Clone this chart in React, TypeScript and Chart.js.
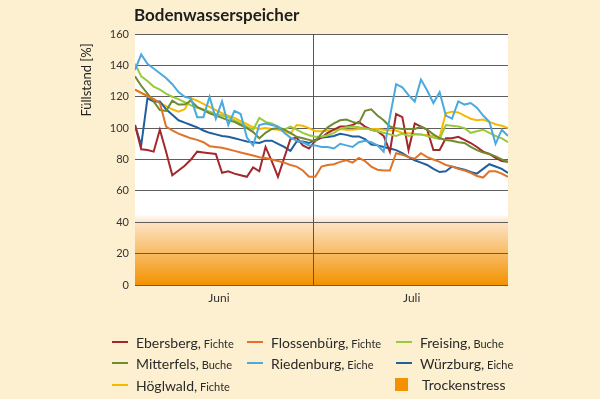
import React, { useEffect, useRef } from "react";
import { Chart, registerables } from "chart.js";

Chart.register(...registerables);

// Day index 0..60 (early June .. end of July)
const ebersberg = [102, 86.5, 86, 85, 99, 85, 70, 73, 76, 80, 85, 84.5, 84, 83.5, 71.5, 72.5, 71, 70, 69, 75, 72.5, 88, 79, 69, 81, 93, 94, 89, 87, 92, 94, 97, 99, 101, 101, 102, 104, 101, 99, 98, 95, 85, 109, 107, 86, 103, 101, 99, 86, 86, 93.5, 93.5, 94.5, 92.5, 90.5, 88, 85, 83.5, 81, 79, 78.5];
const flossenbuerg = [124.5, 122.5, 120.5, 118.5, 116, 101, 98.5, 96.5, 95, 93.5, 92.5, 91, 88.5, 88, 87.5, 86.5, 85.5, 84.5, 83.5, 82.5, 81.5, 81, 80, 79, 78, 76.5, 75.5, 73, 69, 69, 75.5, 76.5, 77, 78.5, 79.5, 78, 81, 79, 75.5, 73.5, 73, 73, 84, 83, 81.5, 80.5, 84, 81.5, 80, 78.5, 76.5, 75.5, 74, 73, 71.5, 69.5, 68.5, 72.5, 72.5, 71, 69];
const freising = [141, 133, 130, 126.5, 124.5, 122, 120, 118.5, 116.5, 114.5, 113, 112, 110.5, 109, 108, 107, 105, 103, 101, 99, 106.5, 104, 103, 101, 99, 101, 99, 97, 95.5, 94.5, 94.5, 95.5, 97, 99.5, 100.5, 101, 100.5, 100, 99, 98, 97, 96, 95, 96.5, 95, 96, 96, 95, 94, 93, 102, 101.5, 101, 100, 97, 98, 99, 97, 95, 93.5, 91];
const mitterfels = [133, 127, 122, 117, 111.5, 111, 117.5, 115, 115, 117.5, 113.5, 111.5, 109.5, 108, 106.5, 105, 104, 102, 100, 97.5, 93.5, 97, 99.5, 100, 99, 97, 94.5, 93.5, 92.5, 91.5, 96.5, 100.5, 103, 105, 105.5, 104, 103, 111, 112, 108, 105, 101, 100, 99.5, 99.5, 99.5, 101, 99, 96, 93.5, 92.5, 92, 91, 90.5, 88, 86, 84.5, 83.5, 82, 80, 78.5];
const riedenburg = [137, 147, 141, 138, 135, 132, 128, 123, 120, 119, 107, 107, 120, 106, 117, 102, 111, 109, 94, 89, 102, 103, 102, 101, 97, 94, 92, 91, 89, 89, 88, 88, 87, 90, 89, 88, 91, 92, 91, 89, 85, 107, 128, 126, 121, 117, 131, 124, 116, 123, 108, 106, 117, 115, 116, 113, 108, 104, 90, 99, 95];
const wuerzburg = [102, 89, 119, 117, 117, 112, 108.5, 105, 103.5, 102, 100.5, 98.5, 97, 96, 95, 94.5, 93.5, 92.5, 91.5, 91, 90.5, 92, 92, 90, 88, 85.5, 91.5, 91.5, 90.5, 92.5, 94, 94.3, 95, 96.4, 95.7, 94.7, 94.7, 93, 89.5, 89, 88, 87, 86, 84, 81.5, 79.5, 78, 76.5, 74, 72, 72.5, 75.5, 74.5, 73.5, 72, 71, 74, 77, 75.5, 74, 71.5];
const hoeglwald = [124.5, 122.5, 120.5, 118.5, 116, 114, 112, 110.5, 112, 119, 117.5, 115.5, 113.5, 111.5, 109.5, 108, 106.5, 104.5, 102.5, 100.5, 99.5, 100, 99.5, 99, 98, 96.5, 102, 101.5, 100, 98, 98, 98.5, 99, 99.5, 99, 99, 99.5, 99.5, 99.5, 99.5, 99, 98.7, 98.5, 97, 96.7, 96.4, 96, 95.5, 95, 94.3, 109.5, 110.5, 110, 108, 106, 105, 105.5, 104, 102.5, 101.5, 100];

const monthLabels = ["Juni", "Juli"];
const monthCenters = [13.5, 44.5];
const monthDivider = 28.6;
const dayMax = 60;
const yTicksMin = 0;
const yTicksMax = 160;
const yStep = 20;
const stressLimit = 40;

const seriesNames = ["Ebersberg", "Flossenbürg", "Freising", "Mitterfels", "Riedenburg", "Würzburg", "Höglwald"];
const seriesKinds = ["Fichte", "Fichte", "Buche", "Buche", "Eiche", "Eiche", "Fichte"];
const seriesColors = ["#a3282b", "#e0732a", "#9cc83c", "#6e8b2f", "#4aa9df", "#1f5f9e", "#f7b900"];
const seriesData = [ebersberg, flossenbuerg, freising, mitterfels, riedenburg, wuerzburg, hoeglwald];
// drawing order: put some lines on top like the reference
const drawOrder = [1, 4, 3, 2, 0, 5, 6];

const FONT = "Lato, 'Open Sans', sans-serif";

const decorPlugin = {
  id: "decor",
  beforeDraw(chart: any) {
    const { ctx, chartArea, scales } = chart;
    const y = scales.y;
    ctx.save();
    ctx.fillStyle = "#ffffff";
    ctx.fillRect(chartArea.left, chartArea.top, chartArea.right - chartArea.left, chartArea.bottom - chartArea.top);
    const yTop = y.getPixelForValue(stressLimit + 5);
    const y40 = y.getPixelForValue(stressLimit);
    const y0 = y.getPixelForValue(0);
    const g = ctx.createLinearGradient(0, yTop, 0, y0);
    const f = (y40 - yTop) / (y0 - yTop);
    g.addColorStop(0, "rgba(255,255,255,1)");
    g.addColorStop(f, "#fde3c6");
    g.addColorStop(1, "#f39200");
    ctx.fillStyle = g;
    ctx.fillRect(chartArea.left, yTop, chartArea.right - chartArea.left, y0 - yTop);
    ctx.restore();

    // title
    ctx.save();
    ctx.fillStyle = "#1e1e1e";
    ctx.font = `bold 17px ${FONT}`;
    ctx.textBaseline = "alphabetic";
    ctx.textAlign = "left";
    ctx.fillText("Bodenwasserspeicher", 134, 21);
    // y title
    ctx.translate(91, 80);
    ctx.rotate(-Math.PI / 2);
    ctx.textAlign = "center";
    ctx.font = `13px ${FONT}`;
    ctx.fillStyle = "#222";
    ctx.fillText("Füllstand [%]", 0, 0);
    ctx.restore();
  },
  beforeDatasetsDraw(chart: any) {
    const { ctx, chartArea, scales } = chart;
    const x = scales.x.getPixelForValue(monthDivider);
    ctx.save();
    ctx.strokeStyle = "#555";
    ctx.lineWidth = 1;
    ctx.beginPath();
    ctx.moveTo(Math.round(x) + 0.5, chartArea.top);
    ctx.lineTo(Math.round(x) + 0.5, chartArea.bottom);
    ctx.stroke();
    ctx.restore();
  },
};

function ChartView() {
  const ref = useRef<HTMLCanvasElement | null>(null);
  useEffect(() => {
    if (!ref.current) return;
    const datasets = drawOrder.map((i) => ({
      label: seriesNames[i],
      data: seriesData[i].map((v, d) => ({ x: d, y: v })),
      borderColor: seriesColors[i],
      backgroundColor: seriesColors[i],
      borderWidth: 2,
      pointRadius: 0,
      tension: 0,
      fill: false,
    }));
    const chart = new Chart(ref.current, {
      type: "line",
      data: { datasets },
      plugins: [decorPlugin],
      options: {
        animation: false,
        responsive: false,
        maintainAspectRatio: false,
        layout: { padding: { left: 0, right: 92, top: 34, bottom: 90 } },
        plugins: { legend: { display: false }, tooltip: { enabled: false }, title: { display: false } },
        scales: {
          x: {
            type: "linear",
            min: 0,
            max: dayMax,
            grid: { display: false, drawTicks: false },
            border: { display: false },
            afterBuildTicks: (scale: any) => {
              scale.ticks = monthCenters.map((v) => ({ value: v }));
            },
            afterFit: (scale: any) => {
              scale.height = 24;
            },
            ticks: {
              autoSkip: false,
              maxRotation: 0,
              padding: 6,
              color: "#333",
              font: { family: FONT, size: 12 },
              callback: (value: any) => {
                const idx = monthCenters.indexOf(Number(value));
                return idx >= 0 ? monthLabels[idx] : "";
              },
            },
          },
          y: {
            min: yTicksMin,
            max: yTicksMax,
            grid: { color: "#5e5e5e", lineWidth: 1, drawTicks: false },
            border: { display: false },
            afterFit: (scale: any) => {
              scale.width = 135;
            },
            ticks: {
              stepSize: yStep,
              padding: 6,
              color: "#333",
              font: { family: FONT, size: 11 },
            },
          },
        },
      },
    });
    return () => chart.destroy();
  }, []);
  return <canvas ref={ref} width={600} height={399} style={{ position: "absolute", left: 0, top: 0, width: 600, height: 399 }} />;
}

const legendCols = [112, 247, 396];
const legendRows = [342, 363, 385];

export default function App() {
  useEffect(() => {
    document.body.style.margin = "0";
  }, []);
  const items = seriesNames.map((n, i) => ({ n, k: seriesKinds[i], c: seriesColors[i], col: i % 3, row: Math.floor(i / 3) }));
  return (
    <div style={{ position: "relative", width: 600, height: 399, background: "#fdf0d0", overflow: "hidden", fontFamily: FONT }}>
      <ChartView />
      {items.map((it) => (
        <React.Fragment key={it.n}>
          <div style={{ position: "absolute", left: legendCols[it.col], top: legendRows[it.row] - 1, width: 16, height: 2, background: it.c }} />
          <div style={{ position: "absolute", left: legendCols[it.col] + 24, top: legendRows[it.row] - 10, height: 20, lineHeight: "20px", whiteSpace: "nowrap", color: "#2a2a2a" }}>
            <span style={{ fontSize: 14 }}>{it.n},</span>
            <span style={{ fontSize: 11 }}> {it.k}</span>
          </div>
        </React.Fragment>
      ))}
      <div style={{ position: "absolute", left: 395, top: legendRows[2] - 7, width: 13, height: 13, background: "#f39200" }} />
      <div style={{ position: "absolute", left: 422, top: legendRows[2] - 10, height: 20, lineHeight: "20px", fontSize: 14, color: "#2a2a2a", whiteSpace: "nowrap" }}>Trockenstress</div>
    </div>
  );
}
